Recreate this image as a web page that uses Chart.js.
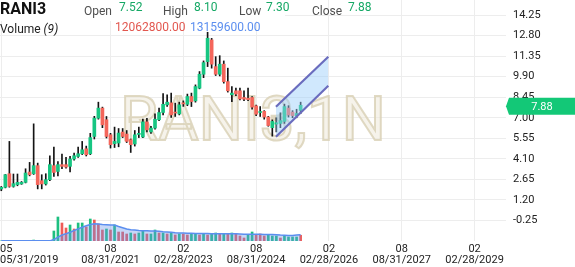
<!DOCTYPE html>
<html><head><meta charset="utf-8">
<script src="https://cdn.jsdelivr.net/npm/chart.js@4.4.1/dist/chart.umd.min.js"></script>
<style>html,body{margin:0;padding:0;background:#fff;overflow:hidden}</style>
</head><body>
<canvas id="c" width="575" height="267"></canvas>
<script>
// ---- data (monthly candles, May 2019 -> Jul 2025) ----
const symbol = 'RANI3';
const watermarkText = 'RANI3,1N';
const opens = [1.97,2.09,3.05,2.16,2.28,2.33,2.44,3.17,3.05,3.62, 2.56,2.33,2.63,3.62,3.21,3.69,3.69,3.57,4.09,4.27,
  4.46,4.81,4.46,5.68,6.97,7.68,6.86,5.80,5.17,5.22, 5.99,5.85,5.45,5.15,5.82,5.64,6.71,6.00,6.27,6.86,
  7.37,7.91,8.05,7.40,7.27,8.05,7.95,8.50,8.19,9.09, 10.07,10.96,12.49,10.61,10.07,10.78,9.55,8.62,8.90,8.90,
  8.43,8.38,8.43,7.84,7.37,7.45,7.05,6.30,6.55,6.60, 6.74,7.68,7.40,7.15,7.52];
const highs = [2.15,3.00,5.33,3.03,3.03,2.50,3.40,3.85,6.57,3.80, 2.98,3.05,4.32,4.93,3.90,4.44,4.20,4.27,4.50,4.93,
  5.33,5.00,5.90,7.10,8.10,7.75,7.09,5.90,6.34,6.24, 6.24,6.10,5.50,6.10,6.34,6.90,6.96,6.40,7.28,7.68,
  8.70,8.62,8.74,8.03,8.10,8.19,8.67,8.74,9.32,10.26, 11.01,13.03,12.60,11.31,11.38,11.01,10.50,9.20,9.09,9.09,
  8.90,9.09,8.50,7.90,7.79,7.50,7.10,6.85,7.00,7.35, 7.96,7.85,7.50,7.60,8.10];
const lows = [1.85,2.05,2.10,2.10,2.20,2.30,2.40,2.90,3.00,1.98, 1.98,2.25,2.56,2.86,2.90,3.40,3.45,3.17,4.00,4.20,
  4.40,4.30,4.40,5.50,6.90,6.30,5.57,4.86,4.90,4.95, 5.60,5.25,4.55,5.00,5.60,5.60,6.00,5.90,6.20,6.80,
  7.20,7.80,7.02,7.09,7.20,7.80,7.85,7.79,8.10,9.04, 9.83,10.61,10.50,9.98,9.95,9.44,8.81,8.14,8.55,8.25,
  8.20,8.20,7.60,7.15,7.09,6.90,6.40,5.70,6.00,6.30, 6.60,7.05,7.00,7.00,7.30];
const closes = [2.09,2.98,2.16,2.35,2.44,2.44,3.10,2.98,3.62,2.28, 2.33,2.63,3.69,3.14,3.69,3.57,3.52,4.09,4.32,4.46,
  4.74,4.39,5.60,6.97,7.68,6.50,5.68,5.10,5.33,5.92, 5.68,5.33,5.10,5.80,5.90,6.71,6.15,6.27,6.90,7.37,
  7.95,8.10,7.20,7.33,7.91,7.98,8.50,8.14,9.20,10.07, 10.89,12.61,10.78,10.07,10.78,9.55,8.90,8.74,8.67,8.33,
  8.31,8.28,7.75,7.25,7.44,7.05,6.45,6.74,6.65,6.80, 7.79,7.20,7.15,7.30,7.88];
const volumes = [200000,300000,200000,300000,200000,200000,300000,400000,2000000,500000,
  400000,500000,600000,21000000,50400000,37800000,27300000,33600000,25200000,37800000,
  37800000,29400000,46200000,44100000,35700000,23100000,25200000,23100000,33600000,18900000,
  18900000,14700000,16800000,14700000,16800000,21000000,14700000,14700000,23100000,16800000,
  16800000,14700000,16800000,12600000,14700000,14700000,12600000,14700000,14700000,12600000,
  14700000,12600000,14700000,16800000,14700000,14700000,14700000,16800000,14700000,10500000,
  6300000,12600000,18900000,12600000,14700000,10500000,12600000,10500000,10500000,6300000,
  10500000,8400000,8400000,8400000,12062800];
const volumeUp = [1,1,1,1,1,1,1,1,1,1, 1,1,1,1,1,0,0,1,0,1, 1,0,1,0,0,0,1,0,1,0,
  0,0,1,0,1,1,0,1,1,0, 1,0,1,0,1,0,0,1,1,0, 1,0,1,1,0,1,0,1,0,0,
  0,1,1,0,0,0,1,1,1,0, 1,1,1,1,0];
const volumeMA9 = [300000,300000,300000,300000,300000,300000,300000,300000,300000,300000,
  300000,300000,300000,3000000,8000000,12600000,15300000,18500000,22000000,25500000,
  29000000,32000000,34600000,36300000,35500000,34700000,34200000,33600000,33600000,30500000,
  28000000,25200000,23700000,23100000,22000000,21600000,21600000,21000000,21000000,20400000,
  19500000,18900000,18300000,17400000,16800000,16800000,16400000,16200000,16000000,15800000,
  15600000,15500000,15400000,15400000,15300000,15200000,15000000,15200000,15000000,14700000,
  14300000,14200000,14300000,14000000,14200000,13900000,13600000,13400000,13200000,12400000,
  12000000,11600000,11800000,12500000,13159600];
// channel drawing (month index, price)
const channelUpper = [{x:67.9, y:7.78},{x:80.84, y:11.31}];
const channelLower = [{x:67.9, y:5.66},{x:80.84, y:9.26}];
// axis ticks
const xTickPos = [0,27,45,63,81,99,117];
const xTickTop = ['05','08','02','08','02','08','02'];
const xTickBottom = ['05/31/2019','08/31/2021','02/28/2023','08/31/2024','02/28/2026','08/31/2027','02/28/2029'];
const yTicks = [14.25,12.80,11.35,9.90,8.45,7.00,5.55,4.10,2.65,1.20,-0.25];
const headerLabels = ['Open','High','Low','Close'];
const headerValues = ['7.52','8.10','7.30','7.88'];
const volumeLegend = ['12062800.00','13159600.00'];

// ---- styles ----
const GREEN = '#17c682', RED = '#f4665b', WICK = '#141414';
const VGREEN = '#1dbf80', VRED = '#ef5b57';
const GRID = '#ededed';
const FONT = 'Roboto';

const idx = opens.map((_, i) => i);
const ds = [
  { type:'line', label:'chanU', data: channelUpper, yAxisID:'y', borderColor:'#6a6cbe', borderWidth:2.2,
    pointRadius:0, fill:false, order:0 },
  { type:'line', label:'chanL', data: channelLower, yAxisID:'y', borderColor:'#6a6cbe', borderWidth:2.2,
    pointRadius:0, fill:'-1', backgroundColor:'rgba(150,205,250,0.45)', order:0 },
  { type:'bar', label:'body', data: idx.map(i => ({x:i, y:[opens[i], closes[i]]})), yAxisID:'y',
    backgroundColor: idx.map(i => closes[i] >= opens[i] ? GREEN : RED), barThickness:3, minBarLength:1,
    grouped:false, order:1 },
  { type:'bar', label:'wick', data: idx.map(i => ({x:i, y:[lows[i], highs[i]]})), yAxisID:'y',
    backgroundColor: WICK, barThickness:1, grouped:false, order:2 },
  { type:'line', label:'volMA', data: idx.map(i => ({x:i, y:volumeMA9[i]})), yAxisID:'yVol',
    borderColor:'#5b8eef', borderWidth:1.5, pointRadius:0, fill:'origin',
    backgroundColor:'rgba(105,150,235,0.38)', order:3 },
  { type:'bar', label:'vol', data: idx.map(i => ({x:i, y:volumes[i]})), yAxisID:'yVol',
    backgroundColor: volumeUp.map(u => u ? VGREEN : VRED), barThickness:2, grouped:false, order:4 }
];

const overlay = {
  id:'overlay',
  beforeDatasetsDraw(chart){
    const {ctx, chartArea:a} = chart;
    ctx.save();
    ctx.font = '62px ' + FONT;
    ctx.textAlign = 'center'; ctx.textBaseline = 'alphabetic';
    const cx = (a.left + a.right) / 2;
    ctx.fillStyle = 'rgba(238,233,218,0.55)';
    ctx.fillText(watermarkText, cx, 140);
    ctx.lineWidth = 2; ctx.strokeStyle = 'rgba(216,207,180,0.8)';
    ctx.strokeText(watermarkText, cx, 140);
    ctx.restore();
  },
  afterDraw(chart){
    const {ctx} = chart;
    const xs = chart.scales.x, ys = chart.scales.y;
    ctx.save();
    // x labels
    ctx.font = '11px ' + FONT; ctx.fillStyle = '#222'; ctx.textBaseline = 'alphabetic';
    xTickPos.forEach((v, i) => {
      const px = xs.getPixelForValue(v);
      ctx.textAlign = i === 0 ? 'left' : 'center';
      const x = i === 0 ? 0 : px;
      ctx.fillText(xTickTop[i], x, 251.5);
      ctx.fillText(xTickBottom[i], x, 262.5);
    });
    // price tag
    const last = closes[closes.length - 1];
    const py = ys.getPixelForValue(last) + 1;
    const L = chart.chartArea.right;
    ctx.fillStyle = '#13c877';
    ctx.beginPath();
    ctx.moveTo(L, py); ctx.lineTo(L + 3, py - 8.5); ctx.lineTo(575, py - 8.5);
    ctx.lineTo(575, py + 8.5); ctx.lineTo(L + 3, py + 8.5); ctx.closePath(); ctx.fill();
    ctx.fillStyle = '#fff'; ctx.textAlign = 'center'; ctx.textBaseline = 'middle';
    ctx.font = '11px ' + FONT;
    ctx.fillText(last.toFixed(2), 542, py + 0.5);
    // header
    ctx.fillStyle = '#fff'; ctx.fillRect(0, 0, 285, 21);
    ctx.textAlign = 'left'; ctx.textBaseline = 'alphabetic';
    ctx.font = 'bold 16px ' + FONT; ctx.fillStyle = '#111';
    ctx.fillText(symbol, 0, 14);
    const lx = [84,163,239,312], vx = [119,194,266,348];
    ctx.font = '12px ' + FONT;
    headerLabels.forEach((t, i) => {
      ctx.fillStyle = '#4f4f4f'; ctx.fillText(t, lx[i], 14.5);
      ctx.fillStyle = '#15a865'; ctx.fillText(headerValues[i], vx[i], 10.8);
    });
    ctx.fillStyle = '#222'; ctx.fillText('Volume ', 0, 33);
    const w = ctx.measureText('Volume ').width;
    ctx.font = 'italic 12px ' + FONT; ctx.fillText('(9)', w, 33);
    ctx.font = '12px ' + FONT;
    ctx.fillStyle = '#e2574f'; ctx.fillText(volumeLegend[0], 115, 30.7);
    ctx.fillStyle = '#5b8eef'; ctx.fillText(volumeLegend[1], 190, 30.7);
    ctx.restore();
  }
};

new Chart(document.getElementById('c'), {
  data: { datasets: ds },
  options: {
    responsive:false, animation:false, events:[],
    layout:{ padding:0 },
    plugins:{ legend:{display:false}, tooltip:{enabled:false} },
    scales:{
      x:{ type:'linear', min:-0.32, max:124.77, offset:false, bounds:'data',
        grid:{ color:GRID, drawTicks:false, offset:false }, border:{display:false},
        ticks:{ display:false },
        afterBuildTicks: s => { s.ticks = xTickPos.map(v => ({value:v})); },
        afterFit: s => { s.height = 26; s.paddingLeft = 0; s.paddingRight = 0; s.paddingTop = 0; s.paddingBottom = 0; } },
      y:{ type:'linear', position:'right', min:-1.697, max:15.309,
        grid:{ color:GRID, drawTicks:false }, border:{display:false},
        ticks:{ padding:7, color:'#222', font:{family:FONT, size:11}, callback: v => Number(v).toFixed(2) },
        afterBuildTicks: s => { s.ticks = yTicks.map(v => ({value:v})); },
        afterFit: s => { s.width = 69; s.paddingTop = 0; s.paddingBottom = 0; s.paddingLeft = 0; s.paddingRight = 0; } },
      yVol:{ type:'linear', display:false, min:0, max:506000000 }
    }
  },
  plugins:[overlay]
});
</script>
</body></html>
